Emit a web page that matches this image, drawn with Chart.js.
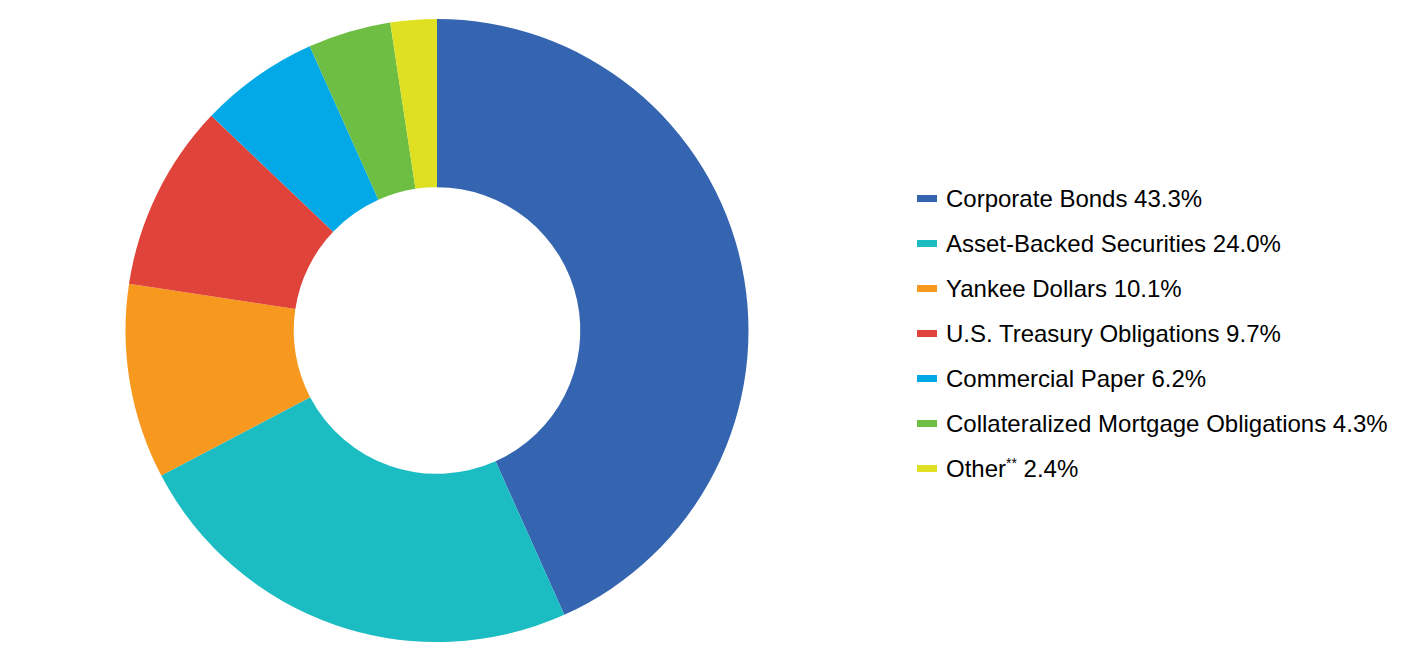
<!DOCTYPE html>
<html>
<head>
<meta charset="utf-8">
<script src="https://cdn.jsdelivr.net/npm/chart.js@4/dist/chart.umd.min.js"></script>
<style>
  html, body { margin: 0; padding: 0; background: #fff; }
  body { width: 1428px; height: 672px; position: relative; overflow: hidden; font-family: "Liberation Sans", Arial, sans-serif; }
  #wrap { position: absolute; left: 0; top: 0; width: 874px; height: 672px; }
  #legend { position: absolute; left: 917px; top: 175.5px; margin: 0; padding: 0; list-style: none; }
  #legend li { height: 45px; line-height: 45px; font-size: 24px; color: #000; white-space: nowrap; position: relative; padding-left: 29px; }
  #legend li span.box { position: absolute; left: 0; top: 19px; width: 20px; height: 7px; }
  #legend sup { font-size: 14px; vertical-align: 0; position: relative; top: -9px; }
</style>
</head>
<body>
<div id="wrap"><canvas id="c"></canvas></div>
<ul id="legend"></ul>
<script>
const categories = ['Corporate Bonds', 'Asset-Backed Securities', 'Yankee Dollars', 'U.S. Treasury Obligations', 'Commercial Paper', 'Collateralized Mortgage Obligations', 'Other**'];
const values = [43.3, 24.0, 10.1, 9.7, 6.2, 4.3, 2.4];
const colors = ['#3565B0', '#1BBDC2', '#F7991F', '#E0433A', '#02A9E6', '#6EBE44', '#DFE022'];

new Chart(document.getElementById('c'), {
  type: 'doughnut',
  data: {
    labels: categories,
    datasets: [{ data: values, backgroundColor: colors, borderWidth: 0 }]
  },
  options: {
    responsive: true,
    maintainAspectRatio: false,
    animation: false,
    cutout: '46%',
    layout: { padding: { top: 19, bottom: 30, left: 0, right: 0 } },
    plugins: { legend: { display: false }, tooltip: { enabled: false } }
  }
});

const ul = document.getElementById('legend');
categories.forEach((c, i) => {
  const li = document.createElement('li');
  const box = document.createElement('span');
  box.className = 'box';
  box.style.background = colors[i];
  li.appendChild(box);
  const m = c.match(/^(.*?)(\*+)$/);
  if (m) {
    li.appendChild(document.createTextNode(m[1]));
    const sup = document.createElement('sup');
    sup.textContent = m[2];
    li.appendChild(sup);
  } else {
    li.appendChild(document.createTextNode(c));
  }
  li.appendChild(document.createTextNode(' ' + values[i].toFixed(1) + '%'));
  ul.appendChild(li);
});
</script>
</body>
</html>
